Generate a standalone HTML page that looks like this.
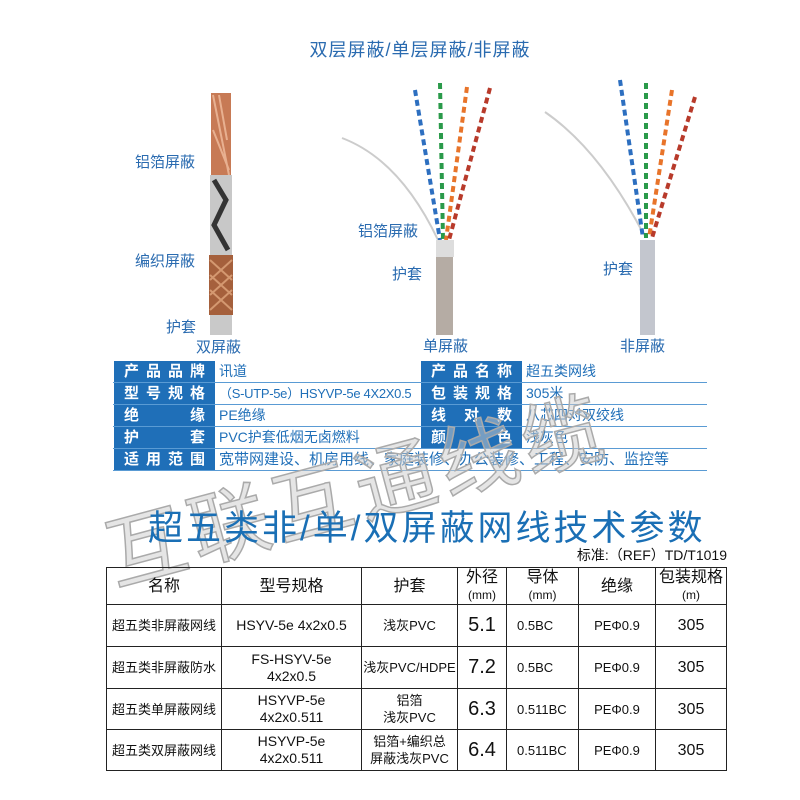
<!DOCTYPE html>
<html><head><meta charset="utf-8"><style>
body{margin:0;width:800px;height:800px;background:#fff;position:relative;overflow:hidden;font-family:"Liberation Sans","Noto Sans CJK SC",sans-serif}
.a{position:absolute;white-space:nowrap}
.lb{color:#2a6bb0;font-size:15px}
table{border-collapse:collapse;position:absolute;table-layout:fixed}
#info{left:113px;top:360px;width:594px;font-size:14px}
#info td{height:21px;padding:0 3px;border:1px solid #fff;border-bottom:1px solid #5a9bd4;line-height:21px;white-space:nowrap;overflow:hidden}
#info td.k{background:#1f6fb8;color:#fff;text-align:justify;text-align-last:justify;padding:0 10px;font-size:15px;font-weight:bold}
#info td.v{color:#1f6fb8}
#spec{left:106px;top:567px;width:621px;font-size:13px}
#spec td{border:1.5px solid #222;text-align:center;color:#111;padding:0;line-height:17px;white-space:nowrap;overflow:hidden}
#spec tr.h td{font-size:16px}
</style></head><body>
<div class="a" style="left:0;width:840px;text-align:center;top:36px;font-size:18px;color:#2a6bb0;letter-spacing:1px">双层屏蔽/单层屏蔽/非屏蔽</div>
<svg class="a" style="left:0;top:0" width="800" height="360">
<rect x="211" y="93" width="20" height="82" fill="#c77a55"/>
<path d="M213 95 L229 175 M219 95 L227 140 M213 130 L229 170" stroke="#e8b090" stroke-width="2"/>
<rect x="210" y="175" width="22" height="80" fill="#c8c8c8"/>
<path d="M214 180 L226 200 L214 225 L228 250" stroke="#333" stroke-width="5" fill="none"/>
<rect x="209" y="255" width="24" height="60" fill="#a5603c"/>
<path d="M210 260 L232 280 M210 275 L232 295 M210 290 L232 310 M232 260 L210 280 M232 275 L210 295 M232 290 L210 310" stroke="#d49870" stroke-width="2"/>
<rect x="210" y="315" width="22" height="20" fill="#c9c9c9"/>
<path d="M342 138 Q400 160 438 240" stroke="#ccc" stroke-width="2" fill="none"/>
<path d="M415 90 L440 240" stroke="#2d6fc0" stroke-width="4" stroke-dasharray="6 4"/>
<path d="M440 83 L443 240" stroke="#2a9a4a" stroke-width="4" stroke-dasharray="6 4"/>
<path d="M467 87 L446 240" stroke="#e8742a" stroke-width="4" stroke-dasharray="6 4"/>
<path d="M490 88 L449 240" stroke="#b83a2a" stroke-width="4" stroke-dasharray="6 4"/>
<rect x="436" y="240" width="18" height="17" fill="#ddd"/>
<rect x="436" y="257" width="17" height="78" fill="#b5aca4"/>
<path d="M545 112 Q600 150 644 235" stroke="#ccc" stroke-width="2" fill="none"/>
<path d="M620 80 L643 238" stroke="#2d6fc0" stroke-width="4" stroke-dasharray="6 4"/>
<path d="M646 83 L646 238" stroke="#2a9a4a" stroke-width="4" stroke-dasharray="6 4"/>
<path d="M672 90 L649 238" stroke="#e8742a" stroke-width="4" stroke-dasharray="6 4"/>
<path d="M695 97 L652 238" stroke="#b83a2a" stroke-width="4" stroke-dasharray="6 4"/>
<rect x="640" y="240" width="15" height="95" fill="#c3c6ce"/>
</svg>
<div class="a lb" style="left:135px;top:151px">铝箔屏蔽</div>
<div class="a lb" style="left:135px;top:250px">编织屏蔽</div>
<div class="a lb" style="left:166px;top:316px">护套</div>
<div class="a lb" style="left:196px;top:336px">双屏蔽</div>
<div class="a lb" style="left:358px;top:220px">铝箔屏蔽</div>
<div class="a lb" style="left:392px;top:263px">护套</div>
<div class="a lb" style="left:423px;top:335px">单屏蔽</div>
<div class="a lb" style="left:603px;top:258px">护套</div>
<div class="a lb" style="left:620px;top:335px">非屏蔽</div>
<table id="info">
<col style="width:102px"><col style="width:205px"><col style="width:102px"><col>
<tr><td class="k">产品品牌</td><td class="v">讯道</td><td class="k">产品名称</td><td class="v">超五类网线</td></tr>
<tr><td class="k">型号规格</td><td class="v" style="font-size:13px;letter-spacing:-0.3px">（S-UTP-5e）HSYVP-5e 4X2X0.5</td><td class="k">包装规格</td><td class="v">305米</td></tr>
<tr><td class="k">绝　　缘</td><td class="v">PE绝缘</td><td class="k">线对数</td><td class="v">八芯四对双绞线</td></tr>
<tr><td class="k">护　　套</td><td class="v">PVC护套低烟无卤燃料</td><td class="k">颜　　色</td><td class="v">浅灰色</td></tr>
<tr><td class="k">适用范围</td><td class="v" colspan="3" style="font-size:15px">宽带网建设、机房用线、家庭装修、办公装修、工程、安防、监控等</td></tr>
</table>
<svg class="a" style="left:0;top:0" width="800" height="800">
<text x="115" y="585" transform="rotate(-15 115 585)" font-size="80" fill="#ccc" fill-opacity="0.5" stroke="#aaa" stroke-width="1.5" font-family="Noto Sans CJK SC" letter-spacing="6">互联互通线缆</text>
</svg>
<div class="a" style="left:148px;top:500px;font-size:35px;color:#1a6fb5;letter-spacing:3px">超五类非/单/双屏蔽网线技术参数</div>
<div class="a" style="right:73px;top:545px;font-size:14px;color:#111">标准:（REF）TD/T1019</div>
<table id="spec">
<col style="width:115px"><col style="width:140px"><col style="width:96px"><col style="width:49px"><col style="width:72px"><col style="width:77px"><col>
<tr class="h" style="height:37px"><td>名称</td><td>型号规格</td><td>护套</td><td>外径<br><span style="font-size:12px">(mm)</span></td><td>导体<br><span style="font-size:12px">(mm)</span></td><td>绝缘</td><td>包装规格<br><span style="font-size:12px">(m)</span></td></tr>
<tr style="height:42px"><td>超五类非屏蔽网线</td><td style="font-size:14px">HSYV-5e 4x2x0.5</td><td>浅灰PVC</td><td style="font-size:20px">5.1</td><td style="text-align:left;padding-left:10px">0.5BC</td><td>PEΦ0.9</td><td style="font-size:16px">305</td></tr>
<tr style="height:42px"><td>超五类非屏蔽防水</td><td style="font-size:14px">FS-HSYV-5e<br>4x2x0.5</td><td>浅灰PVC/HDPE</td><td style="font-size:20px">7.2</td><td style="text-align:left;padding-left:10px">0.5BC</td><td>PEΦ0.9</td><td style="font-size:16px">305</td></tr>
<tr style="height:41px"><td>超五类单屏蔽网线</td><td style="font-size:14px">HSYVP-5e<br>4x2x0.511</td><td>铝箔<br>浅灰PVC</td><td style="font-size:20px">6.3</td><td style="text-align:left;padding-left:10px">0.511BC</td><td>PEΦ0.9</td><td style="font-size:16px">305</td></tr>
<tr style="height:41px"><td>超五类双屏蔽网线</td><td style="font-size:14px">HSYVP-5e<br>4x2x0.511</td><td>铝箔+编织总<br>屏蔽浅灰PVC</td><td style="font-size:20px">6.4</td><td style="text-align:left;padding-left:10px">0.511BC</td><td>PEΦ0.9</td><td style="font-size:16px">305</td></tr>
</table>
</body></html>
